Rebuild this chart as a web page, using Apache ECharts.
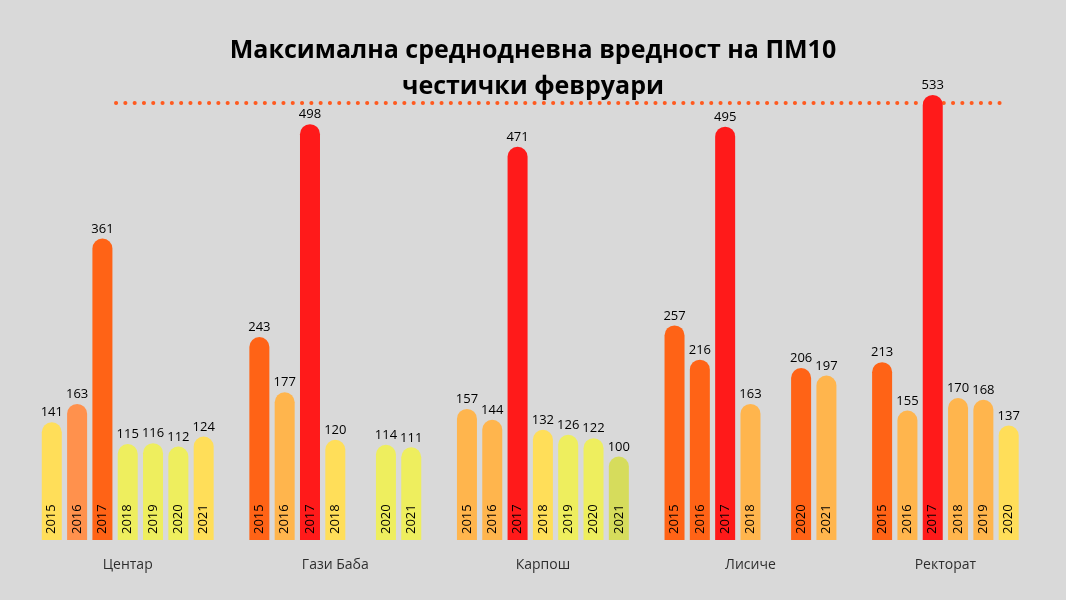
<!DOCTYPE html>
<html lang="mk">
<head>
<meta charset="UTF-8">
<title>ПМ10 февруари</title>
<script src="https://cdn.jsdelivr.net/npm/echarts@6/dist/echarts.min.js"></script>
<style>html,body{margin:0;background:#d9d9d9;}</style>
</head>
<body>
<div id="main" style="width:1066px;height:600px;"></div>
<script>
// станици и години
var stations = ['Центар', 'Гази Баба', 'Карпош', 'Лисиче', 'Ректорат'];
var years = ['2015', '2016', '2017', '2018', '2019', '2020', '2021'];
// вредности по станица (null = нема податок)
var centar   = [141, 163, 361, 115, 116, 112, 124];
var gaziBaba = [243, 177, 498, 120, null, 114, 111];
var karpos   = [157, 144, 471, 132, 126, 122, 100];
var lisice   = [257, 216, 495, 163, null, 206, 197];
var rektorat = [213, 155, 533, 170, 168, 137, null];
var values = [centar, gaziBaba, karpos, lisice, rektorat];

var colors = [
  ['#ffde59', '#ff914d', '#ff6316', '#eeee5e', '#eeee5e', '#eeee5e', '#ffde59'],
  ['#ff6316', '#ffb54d', '#ff1a1a', '#ffde59', null, '#eeee5e', '#eeee5e'],
  ['#ffb54d', '#ffb54d', '#ff1a1a', '#ffde59', '#eeee5e', '#eeee5e', '#d6dc5c'],
  ['#ff6316', '#ff6316', '#ff1a1a', '#ffb54d', null, '#ff6316', '#ffb54d'],
  ['#ff6316', '#ffb54d', '#ff1a1a', '#ffb54d', '#ffb54d', '#ffde59', null]
];

var groupSpan = 8.2;
var barData = [];
var nameData = [];
values.forEach(function (vals, g) {
  vals.forEach(function (v, i) {
    if (v === null) return;
    barData.push({
      value: [g * groupSpan + i, v],
      year: years[i],
      itemStyle: { color: colors[g][i] }
    });
  });
  var center = g === 4 ? 2.5 : 3;
  nameData.push({ value: [g * groupSpan + center, 0], name: stations[g] });
});

var myChart = echarts.init(document.getElementById('main'));
var option = {
  backgroundColor: '#d9d9d9',
  title: {
    text: 'Максимална среднодневна вредност на ПМ10\nчестички февруари',
    left: 'center',
    top: 28,
    textStyle: {
      fontFamily: 'Open Sans', fontWeight: 'bold', fontSize: 25,
      color: '#000', lineHeight: 36
    }
  },
  grid: { left: 29, right: 32, top: 39, bottom: 60 },
  xAxis: { type: 'value', min: -0.9, max: 38.8, show: false },
  yAxis: { type: 'value', min: 0, max: 600, show: false },
  graphic: [{
    type: 'line',
    shape: { x1: 116, y1: 103, x2: 1000, y2: 103 },
    style: { stroke: '#ff5a1f', lineWidth: 4, lineDash: [0.1, 9.2], lineCap: 'round' }
  }],
  series: [{
    type: 'bar',
    data: barData,
    barWidth: 20,
    itemStyle: { borderRadius: [10, 10, 0, 0] },
    label: {
      show: true, position: 'top', distance: 3,
      color: '#000', fontSize: 13, fontFamily: 'Open Sans',
      formatter: function (p) { return p.value[1]; }
    }
  }, {
    type: 'bar',
    data: barData.map(function (d) { return { value: d.value, year: d.year }; }),
    barWidth: 20,
    barGap: '-100%',
    itemStyle: { color: 'transparent' },
    label: {
      show: true, position: 'insideBottom', rotate: 90, align: 'left',
      verticalAlign: 'middle', distance: 6,
      color: '#000', fontSize: 13, fontFamily: 'Open Sans',
      formatter: function (p) { return p.data.year; }
    },
    silent: true
  }, {
    type: 'scatter',
    data: nameData,
    symbolSize: 1,
    itemStyle: { color: 'transparent' },
    label: {
      show: true, position: 'bottom', distance: 18,
      color: '#000', fontSize: 14, fontFamily: 'Open Sans',
      formatter: function (p) { return p.name; }
    }
  }]
};
myChart.setOption(option);
</script>
</body>
</html>
